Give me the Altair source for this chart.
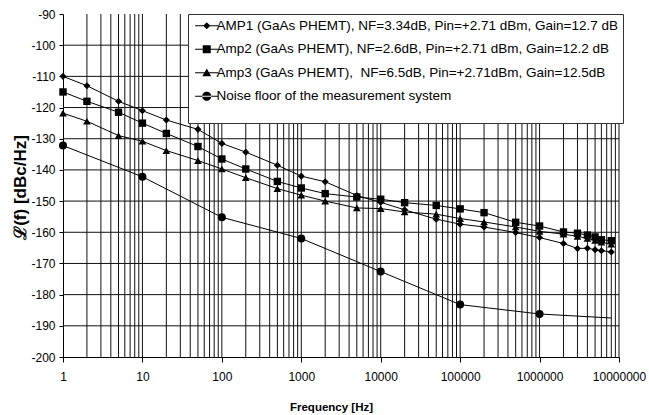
import altair as alt
import pandas as pd

# Offset frequencies (Hz) shared by the three amplifier traces
freqs = [1, 2, 5, 10, 20, 50, 100, 200, 500, 1000, 2000, 5000, 10000, 20000,
         50000, 100000, 200000, 500000, 1000000, 2000000, 3000000, 4000000,
         5000000, 6000000, 8000000]

# Phase noise L(f) in dBc/Hz
amp1 = [-110, -113, -118, -121, -124, -127, -131.5, -134.3, -138.5, -142,
        -143.8, -148.2, -150.4, -152.8, -155.8, -157.4, -158.3, -160.1,
        -161.7, -163.6, -165.2, -165.1, -165.6, -165.9, -166.3]
amp2 = [-115, -118, -121.5, -125, -128.3, -132.5, -136.5, -139.7, -143.7,
        -145.8, -147.6, -148.7, -149.4, -150.5, -151.4, -152.5, -153.7,
        -156.8, -158, -159.9, -160.3, -160.9, -161.5, -162.4, -162.7]
amp3 = [-121.8, -124.4, -129, -130.8, -133.8, -137, -139.7, -142.5, -146,
        -148.1, -150, -152.2, -152.4, -153.5, -154.2, -155.6, -156.7, -158.3,
        -159.7, -160.6, -161.3, -162, -162.6, -163.2, -163.8]

# Measurement system noise floor (markers at decades, trace runs on to 8 MHz)
noise_freqs = [1, 10, 100, 1000, 10000, 100000, 1000000, 8000000]
noise = [-132.2, -142.2, -155.2, -162, -172.6, -183.2, -186.2, -187.5]
noise_marked = [True, True, True, True, True, True, True, False]

names = [
    "AMP1 (GaAs PHEMT), NF=3.34dB, Pin=+2.71 dBm, Gain=12.7 dB",
    "Amp2 (GaAs PHEMT), NF=2.6dB, Pin=+2.71 dBm, Gain=12.2 dB",
    "Amp3 (GaAs PHEMT),\u00a0 NF=6.5dB, Pin=+2.71dBm, Gain=12.5dB",
    "Noise floor of the measurement system",
]

y_title = "\u2112(f) [dBc/Hz]"

y_ticks = list(range(-200, -89, 10))
x_decades = [10 ** k for k in range(0, 8)]
x_grid = [m * 10 ** k for k in range(0, 7) for m in range(1, 10)][1:] + [10 ** 7]
y_grid = list(range(-190, -99, 10))

rows = []
for name, vals in zip(names[:3], [amp1, amp2, amp3]):
    for f, v in zip(freqs, vals):
        rows.append({"series": name, "freq": f, "lf": v, "marked": True})
for f, v, m in zip(noise_freqs, noise, noise_marked):
    rows.append({"series": names[3], "freq": f, "lf": v, "marked": m})
df = pd.DataFrame(rows)

FONT = "Liberation Sans"
x_scale = alt.Scale(type="log", domain=[1, 1e7], nice=False)
y_scale = alt.Scale(domain=[-200, -90], nice=False, zero=False)

x_axis = alt.Axis(
    values=x_decades, labelExpr="'' + datum.value", grid=False,
    title="Frequency [Hz]", tickSize=5, labelPadding=9,
    labelOverlap=False, labelFlush=False,
)
y_axis = alt.Axis(
    values=y_ticks, labelExpr="'' + datum.value", grid=False,
    title=None, tickSize=4, labelPadding=4,
    labelOverlap=False, labelFlush=False,
)

X = alt.X("freq:Q", scale=x_scale, axis=x_axis)
Y = alt.Y("lf:Q", scale=y_scale, axis=y_axis)

base = alt.Chart(df)

vgrid = alt.Chart(pd.DataFrame({"freq": x_grid})).mark_rule(
    color="#111111", strokeWidth=1
).encode(x=X)

hgrid = alt.Chart(pd.DataFrame({"lf": y_grid})).mark_rule(
    color="#111111", strokeWidth=1
).encode(y=Y)

lines = base.mark_line(color="black", strokeWidth=1).encode(
    x=X, y=Y, detail="series:N", order="freq:Q",
)

points = base.transform_filter("datum.marked").mark_point(
    filled=True, color="black", opacity=1
).encode(
    x=X,
    y=Y,
    shape=alt.Shape(
        "series:N",
        scale=alt.Scale(domain=names, range=["diamond", "square", "triangle-up", "circle"]),
        legend=None,
    ),
    size=alt.Size(
        "series:N", scale=alt.Scale(domain=names, range=[50, 64, 70, 81]), legend=None
    ),
)

# Rotated title for the phase-noise axis
y_title_mark = alt.Chart(pd.DataFrame({"t": [y_title]})).mark_text(
    angle=270, font=FONT, fontSize=17, fontWeight="bold", color="black",
    align="center", baseline="middle",
).encode(text="t:N", x=alt.value(-42), y=alt.value(173.5))

# Legend symbols: a thin bar standing for the trace, with the series marker on it
bar = "M-1.15,-0.13H4.65V0.13H-1.15Z"
legend_paths = [
    bar + "M1.75,-0.9L2.65,0L1.75,0.9L0.85,0Z",
    bar + "M0.75,-1H2.75V1H0.75Z",
    bar + "M1.75,-1.05L2.85,0.85L0.65,0.85Z",
    bar + "M0.6,0A1.15,1.15,0,1,0,2.9,0A1.15,1.15,0,1,0,0.6,0Z",
]

legend_layer = base.transform_filter("false").mark_point(
    filled=True, color="black", opacity=1
).encode(
    x=X,
    y=Y,
    shape=alt.Shape(
        "series:N",
        scale=alt.Scale(domain=names, range=legend_paths),
        legend=alt.Legend(
            title="\u00a0",
            titleOrient="bottom",
            titleFontSize=11,
            titlePadding=4,
            orient="none",
            legendX=125,
            legendY=0,
            padding=5,
            rowPadding=8.5,
            fillColor="white",
            strokeColor="#333333",
            symbolSize=64,
            symbolFillColor="black",
            symbolStrokeColor="black",
            symbolStrokeWidth=0,
            symbolOpacity=1,
            labelOffset=10,
            labelFont=FONT,
            labelFontSize=13.5,
            labelColor="black",
            labelLimit=600,
        ),
    ),
)

chart = (
    alt.layer(vgrid, hgrid, lines, points, y_title_mark, legend_layer)
    .resolve_scale(shape="independent")
    .properties(
        width=556,
        height=343,
        padding={"left": 63, "top": 14, "right": 30, "bottom": 58},
        autosize=alt.AutoSizeParams(type="none"),
        background="white",
    )
    .configure_view(stroke=None)
    .configure_axis(
        domainColor="black",
        tickColor="black",
        labelFont=FONT,
        labelFontSize=12,
        labelColor="black",
        titleFont=FONT,
        titleFontWeight="bold",
        titleColor="black",
    )
    .configure_axisX(titleFontSize=11.5, titleX=268, titleY=50, titleBaseline="middle")
)

chart.save("out.html", embed_options={"renderer": "svg", "actions": False})
